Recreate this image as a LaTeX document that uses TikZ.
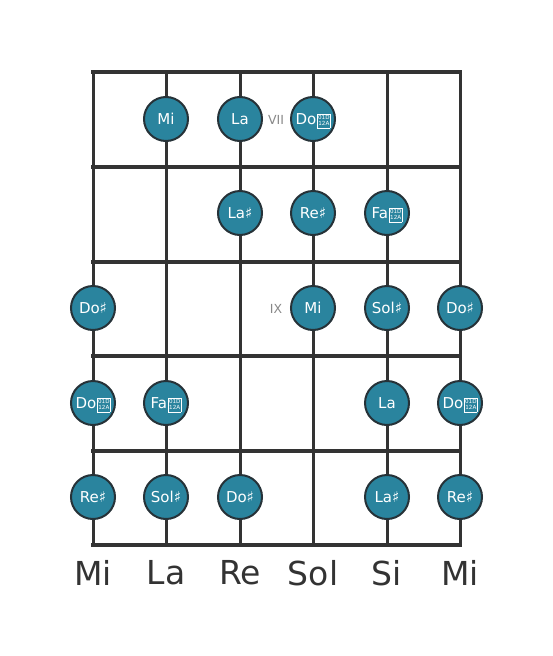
\documentclass[tikz,border=0pt]{standalone}
\usepackage{fontspec}
\setmainfont{DejaVu Sans}
% the double sharp (U+1D12A) has no glyph in any installed family: drawn as the hex box the reference shows
\newcommand\dsbox{\kern1pt\raisebox{-1.2pt}[8pt][0pt]{\setlength\fboxsep{0.4pt}\setlength\fboxrule{0.5pt}\fbox{\fontsize{5.6}{6.2}\selectfont\setlength\tabcolsep{0pt}\begin{tabular}[b]{c}01D\\12A\end{tabular}}}}
\begin{document}
\begin{tikzpicture}[x=1pt,y=-1pt,
  fret/.style={line width=4.5pt,draw=linec},
  string/.style={line width=3pt,draw=linec},
  note/.style={circle,minimum size=44pt,inner sep=0pt,fill=notec,draw=edgec,line width=2pt,text=white,font=\fontsize{15}{15}\selectfont},
  poslabel/.style={text=posc,font=\fontsize{12.5}{12.5}\selectfont},
  sname/.style={text=linec,font=\fontsize{33}{33}\selectfont}]
\definecolor{linec}{HTML}{333333}
\definecolor{notec}{HTML}{2A849E}
\definecolor{edgec}{HTML}{263238}
\definecolor{posc}{HTML}{888888}
\useasboundingbox (0,0) rectangle (553,656);
% strings
\foreach \i/\x in {1/93,2/166,3/240,4/313,5/387,6/460}{
  \coordinate (s\i t) at (\x,72);
  \coordinate (s\i b) at (\x,545);
  \draw[string] (s\i t) -- (s\i b);
}
% frets
\foreach \j/\y in {0/72,1/167,2/262,3/356,4/451,5/545}{
  \coordinate (f\j l) at (93,\y);
  \coordinate (f\j r) at (460,\y);
  \draw[fret,line cap=rect] (f\j l) -- (f\j r);
}
% notes
\node[note] (n11) at (166,119) {Mi};
\node[note] (n12) at (240,119) {La};
\node[note] (n13) at (313,119) {Do\dsbox};
\node[note] (n21) at (240,213) {La♯};
\node[note] (n22) at (313,213) {Re♯};
\node[note] (n23) at (387,213) {Fa\dsbox};
\node[note] (n31) at (93,308) {Do♯};
\node[note] (n32) at (313,308) {Mi};
\node[note] (n33) at (387,308) {Sol♯};
\node[note] (n34) at (460,308) {Do♯};
\node[note] (n41) at (93,403) {Do\dsbox};
\node[note] (n42) at (166,403) {Fa\dsbox};
\node[note] (n43) at (387,403) {La};
\node[note] (n44) at (460,403) {Do\dsbox};
\node[note] (n51) at (93,497) {Re♯};
\node[note] (n52) at (166,497) {Sol♯};
\node[note] (n53) at (240,497) {Do♯};
\node[note] (n54) at (387,497) {La♯};
\node[note] (n55) at (460,497) {Re♯};
% position labels
\node[poslabel] (p7) at (276,120) {VII};
\node[poslabel] (p9) at (276,309) {IX};
% string names
\node[sname] (l1) at (93,573) {Mi};
\node[sname] (l2) at (166,573) {La};
\node[sname] (l3) at (240,573) {Re};
\node[sname] (l4) at (313,573) {Sol};
\node[sname] (l5) at (387,573) {Si};
\node[sname] (l6) at (460,573) {Mi};
\end{tikzpicture}
\end{document}
